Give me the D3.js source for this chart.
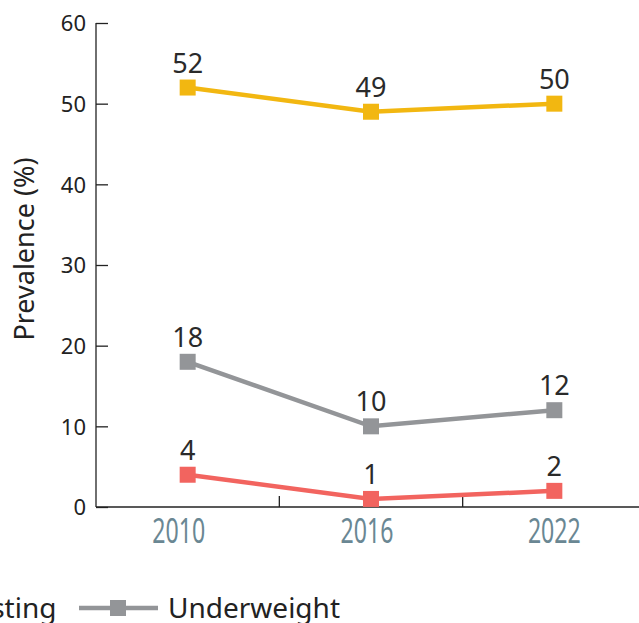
<!DOCTYPE html>
<html><head><meta charset="utf-8">
<script src="https://cdn.jsdelivr.net/npm/d3@7"></script>
<style>body{margin:0;background:#fff}svg{display:block}</style>
</head><body>
<svg id="c" width="639" height="623"></svg>
<script>
const years = ["2010","2016","2022"];
const stunting = [52,49,50];
const wasting = [4,1,2];
const underweight = [18,10,12];
const yTicks = [0,10,20,30,40,50,60];
const seriesNames = ["Stunting","Wasting","Underweight"];
const colors = {Stunting:"#F2B711", Wasting:"#F2645F", Underweight:"#939598"};

const svg = d3.select("#c");
const x = d3.scaleBand().domain(years).range([96,646]);
const y = d3.scaleLinear().domain([0,60]).range([507,23]);
const font = "'Noto Sans', 'Open Sans', sans-serif";

// y axis
const ya = svg.append("g").attr("transform","translate(96,0)")
  .call(d3.axisRight(y).tickValues(yTicks).tickSize(12).tickFormat(d3.format("d")));
ya.select(".domain").attr("stroke","#222").attr("stroke-width",1.3).attr("d","M0,23V507");
ya.selectAll(".tick line").attr("stroke","#222").attr("stroke-width",1.3);
ya.selectAll(".tick text").attr("x",-10).attr("dy","0.36em").attr("text-anchor","end")
  .attr("font-family",font).attr("font-size",22).attr("fill","#222");

// x axis
const xa = svg.append("g").attr("transform","translate(0,507)");
xa.append("line").attr("x1",96).attr("x2",639).attr("stroke","#222").attr("stroke-width",1.3);
years.slice(1).forEach(d=>{
  xa.append("line").attr("x1",x(d)).attr("x2",x(d)).attr("y1",0).attr("y2",-11)
    .attr("stroke","#222").attr("stroke-width",1.3);
});
const xOff = [-9,-4,0];
years.forEach((d,i)=>{
  const cx = x(d)+x.bandwidth()/2 + xOff[i];
  xa.append("text").attr("transform",`translate(${cx},36) scale(0.68,1)`)
    .attr("text-anchor","middle").attr("font-family",font).attr("font-size",34)
    .attr("fill","#6A8793").text(d);
});

// y title
svg.append("text").attr("transform","translate(34,249) rotate(-90)")
  .attr("text-anchor","middle").attr("font-family",font).attr("font-size",27)
  .attr("fill","#222").text("Prevalence (%)");

const data = {Stunting:stunting, Wasting:wasting, Underweight:underweight};
const cx = d => x(d)+x.bandwidth()/2;
const line = d3.line().x(d=>cx(d.year)).y(d=>y(d.v));
["Underweight","Wasting","Stunting"].forEach(name=>{
  const pts = years.map((yr,i)=>({year:yr, v:data[name][i]}));
  const g = svg.append("g");
  g.append("path").attr("d",line(pts)).attr("fill","none")
    .attr("stroke",colors[name]).attr("stroke-width",4.5);
  g.selectAll("rect").data(pts).join("rect")
    .attr("x",d=>cx(d.year)-8).attr("y",d=>y(d.v)-8).attr("width",16).attr("height",16)
    .attr("fill",colors[name]);
  g.selectAll("text").data(pts).join("text")
    .attr("x",d=>cx(d.year)).attr("y",d=>y(d.v)-15).attr("text-anchor","middle")
    .attr("font-family",font).attr("font-size",27).attr("fill","#2a2a2a").text(d=>d.v);
});

// legend
const lg = svg.append("g").attr("transform","translate(0,608)");
const items = [
  {name:"Stunting", lx:-262},
  {name:"Wasting", lx:-139},
  {name:"Underweight", lx:79}
];
items.forEach(it=>{
  lg.append("line").attr("x1",it.lx).attr("x2",it.lx+79).attr("stroke",colors[it.name]).attr("stroke-width",4.5);
  lg.append("rect").attr("x",it.lx+31).attr("y",-8).attr("width",16).attr("height",16).attr("fill",colors[it.name]);
  lg.append("text").attr("x",it.lx+89).attr("y",10).attr("font-family",font).attr("font-size",28)
    .attr("fill","#222").text(it.name);
});
</script>
</body></html>
